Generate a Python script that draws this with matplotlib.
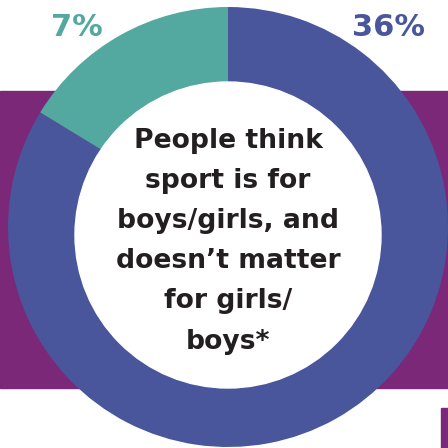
import matplotlib.pyplot as plt
from matplotlib.patches import Rectangle, Circle

# Share of responses in the ring
labels = ["Boys/girls", "Doesn't matter"]
values = [36, 7]
colors = ["#49569c", "#53a9a0"]

center_text = "People think\nsport is for\nboys/girls, and\ndoesn\u2019t matter\nfor girls/\nboys*"

fig = plt.figure(figsize=(4.48, 4.48), dpi=100)
ax = fig.add_axes([0, 0, 1, 1])

# purple band behind the ring
ax.add_patch(Rectangle((0, 60), 448, 297, color="#7b2879", zorder=0))
ax.add_patch(Rectangle((441, 0), 10, 40, color="#7b2879", zorder=0))

wedges, _ = ax.pie(values, colors=colors, startangle=90, counterclock=False,
                   center=(228, 221), radius=220, frame=True,
                   wedgeprops=dict(linewidth=0))
for w in wedges:
    w.set_zorder(1)
ax.set_xlim(0, 448)
ax.set_ylim(0, 448)
ax.set_aspect("equal")
ax.axis("off")

# white hole
ax.add_patch(Circle((228, 213), 153, color="white", zorder=2))

ax.text(228, 207, center_text, ha="center", va="center", fontsize=19.2,
        fontweight="bold", color="#231f20", linespacing=1.71, zorder=3,
        family="DejaVu Sans")

ax.text(77, 421, f"{values[1]}%", ha="center", va="center", fontsize=22,
        fontweight="bold", color=colors[1], family="DejaVu Sans")
ax.text(388, 421, f"{values[0]}%", ha="center", va="center", fontsize=22,
        fontweight="bold", color=colors[0], family="DejaVu Sans")

fig.savefig("out.png", dpi=100)
